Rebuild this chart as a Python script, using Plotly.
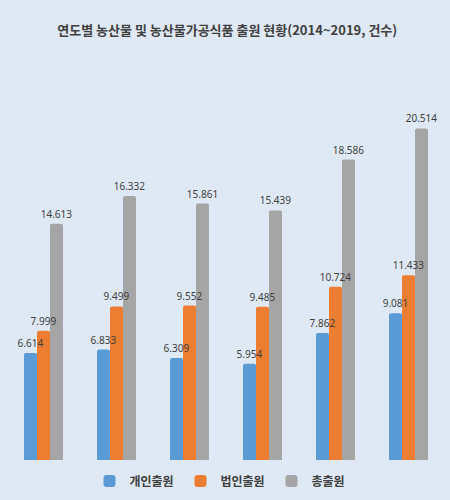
import plotly.graph_objects as go

years = ["2014", "2015", "2016", "2017", "2018", "2019"]
series_names = ["개인출원", "법인출원", "총출원"]
individual = [6614, 6833, 6309, 5954, 7862, 9081]
corporate = [7999, 9499, 9552, 9485, 10724, 11433]
total = [14613, 16332, 15861, 15439, 18586, 20514]
colors = ["#5b9bd5", "#ed7d31", "#a5a5a5"]
groups = ["g1", "g2", "g3"]

fig = go.Figure()
series = list(zip(series_names, [individual, corporate, total], colors, groups))
for name, vals, col, g in series:
    fig.add_trace(go.Bar(
        x=years, y=vals, name=name, offsetgroup=g,
        marker=dict(color=col, line=dict(width=0)),
        hoverinfo="skip",
    ))
# value labels drawn on top of all bars
for name, vals, col, g in series:
    fig.add_trace(go.Bar(
        x=years, y=vals, name=name, offsetgroup=g, showlegend=False,
        marker=dict(color="rgba(0,0,0,0)", line=dict(width=0)),
        texttemplate="%{y:,}", textposition="outside", constraintext="none",
        textfont=dict(size=10, color="#404040", family="Noto Sans"),
        cliponaxis=False, hoverinfo="skip",
    ))

fig.update_layout(
    width=450, height=500,
    paper_bgcolor="#dee9f5", plot_bgcolor="#dee9f5",
    margin=dict(l=7, r=5, t=100, b=33),
    barmode="group", bargap=0.466, bargroupgap=0,
    barcornerradius=2,
    separators=",.",
    title=dict(text="<b>연도별 농산물 및 농산물가공식품 출원 현황(2014~2019, 건수)</b>",
               x=0.505, xanchor="center", y=0.94, yref="container", yanchor="middle",
               font=dict(size=13, color="#404040", family="Noto Sans CJK KR")),
    xaxis=dict(showticklabels=False, showgrid=False, zeroline=False, showline=False, ticks=""),
    yaxis=dict(range=[0, 22270], showticklabels=False, showgrid=False, zeroline=False, showline=False),
    legend=dict(orientation="h", x=0.5, xanchor="center", y=-0.058, yanchor="middle",
                font=dict(size=12, color="#404040", family="Noto Sans CJK KR", weight="bold"),
                itemwidth=30, entrywidth=46, entrywidthmode="pixels", bgcolor="rgba(0,0,0,0)"),
    font=dict(family="Noto Sans CJK KR"),
)

fig.write_html("out.html", config={"displayModeBar": False},
               post_script="document.body.style.margin='0';document.body.style.overflow='hidden';")
